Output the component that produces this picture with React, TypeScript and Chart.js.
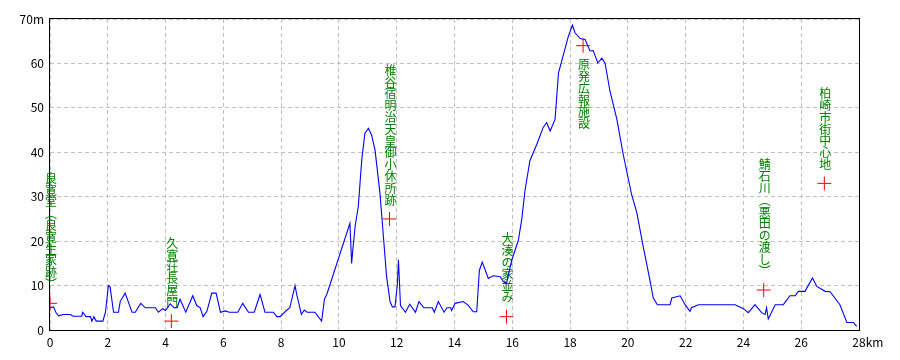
import React, { useEffect, useRef } from "react";
import { Chart, registerables } from "chart.js";

Chart.register(...registerables);

// Elevation profile: distance (km) and elevation (m)
const distanceKm: number[] = [
  0, 0.12, 0.2, 0.3, 0.45, 0.7, 0.8, 1.1, 1.13, 1.25, 1.4, 1.45, 1.52, 1.6, 1.83, 1.92,
  2.02, 2.08, 2.2, 2.37, 2.43, 2.6, 2.84, 2.95, 3.14, 3.3, 3.65, 3.75, 3.9, 4.0, 4.16, 4.3,
  4.4, 4.5, 4.7, 4.94, 5.08, 5.2, 5.3, 5.43, 5.6, 5.75, 5.9, 6.07, 6.2, 6.5, 6.67, 6.87,
  7.07, 7.27, 7.44, 7.73, 7.85, 7.96, 8.2, 8.3, 8.48, 8.54, 8.7, 8.8, 8.9, 9.17, 9.4, 9.5,
  9.58, 10.38, 10.44, 10.48, 10.56, 10.67, 10.79, 10.9, 11.02, 11.13, 11.25, 11.42, 11.54,
  11.65, 11.77, 11.85, 11.94, 12.02, 12.06, 12.1, 12.13, 12.3, 12.45, 12.65, 12.77, 12.94,
  13.23, 13.3, 13.44, 13.64, 13.74, 13.87, 13.9, 14.02, 14.3, 14.47, 14.65, 14.77, 14.86,
  14.96, 15.17, 15.34, 15.58, 15.69, 15.8, 15.98, 16.21, 16.33, 16.44, 16.61, 16.85, 17.07,
  17.19, 17.31, 17.48, 17.6, 17.77, 17.94, 18.08, 18.17, 18.35, 18.52, 18.69, 18.8, 18.96,
  19.1, 19.21, 19.38, 19.62, 19.84, 20.13, 20.31, 20.54, 20.77, 20.88, 21.02, 21.46, 21.52,
  21.81, 21.98, 22.15, 22.2, 22.44, 23.71, 24.0, 24.17, 24.4, 24.63, 24.75, 24.8, 24.86,
  25.1, 25.38, 25.61, 25.79, 25.9, 26.13, 26.39, 26.54, 26.83, 27.0, 27.34, 27.58, 27.81,
  27.92,
];

const elevationM: number[] = [
  5, 5.2, 4, 3.2, 3.5, 3.5, 3.1, 3.1, 4, 3, 3, 2, 3, 2, 2, 4,
  10, 9.7, 4, 4, 6.4, 8.3, 4, 4, 6, 5, 5, 4, 4.8, 4.4, 5.9, 5,
  5, 6.9, 4, 7.7, 5.5, 5, 3, 4.2, 8.3, 8.3, 4, 4.3, 4, 4, 6, 4,
  4, 8, 4, 4, 3, 3, 4.5, 5, 10, 8, 3.5, 4.5, 4, 4, 2, 7,
  8, 24, 15, 18, 23.3, 27.8, 38.3, 44.3, 45.4, 43.9, 40.5, 30.8, 21,
  12, 6.4, 5.2, 5.2, 10, 15.8, 10, 5.5, 4, 5.8, 4, 6.4, 5,
  5, 4, 6.4, 4, 5, 5, 4.4, 6, 6.4, 5.6, 4.1, 4.1, 13.4,
  15.3, 11.6, 12.2, 12, 10.9, 10.5, 15.7, 20.2, 25, 31.4, 38.1, 41.8, 45.6,
  46.7, 44.8, 47.4, 57.9, 62, 66.1, 68.6, 66.9, 65.6, 65.4, 62.8, 62.9, 60.1,
  61.2, 60.1, 53.8, 47.4, 39.5, 30.5, 26.4, 18.5, 11, 7.2, 5.7, 5.7, 7.2,
  7.7, 5.7, 4.2, 5, 5.7, 5.7, 4.8, 3.9, 5.7, 3.9, 3.5, 5, 2.5,
  5.7, 5.7, 7.7, 7.7, 8.7, 8.7, 11.7, 9.8, 8.7, 8.6, 5.7, 1.7, 1.7,
  0.8,
];

// Landmarks
const landmarkNames: string[] = [
  "良寛堂（良寛生家跡）",
  "久寛荘長屋門",
  "椎谷宿明治天皇御小休所跡",
  "大湊の家並み",
  "原発広報施設",
  "鯖石川（悪田の渡し）",
  "柏崎市街中心地",
];
const landmarkKm: number[] = [0, 4.2, 11.75, 15.8, 18.45, 24.7, 26.8];
const landmarkM: number[] = [6, 2, 25, 3, 64, 9, 33];
const landmarkBelow: boolean[] = [false, false, false, false, true, false, false];

// Axes
const xTicks: number[] = [0, 2, 4, 6, 8, 10, 12, 14, 16, 18, 20, 22, 24, 26, 28];
const yTicks: number[] = [0, 10, 20, 30, 40, 50, 60, 70];
const xUnit = "km";
const yUnit = "m";

const FONT = '"Noto Sans CJK JP", "Noto Sans", sans-serif';

const verticalForm = (c: string) => (c === "（" ? "︵" : c === "）" ? "︶" : c);

const framePlugin = {
  id: "frame",
  beforeDatasetsDraw(chart: any) {
    const { ctx, chartArea, scales } = chart;
    ctx.save();
    ctx.strokeStyle = "#000";
    ctx.lineWidth = 1;
    ctx.setLineDash([]);
    ctx.strokeRect(
      Math.round(chartArea.left) - 0.5,
      Math.round(chartArea.top) - 0.5,
      Math.round(chartArea.right - chartArea.left) + 1,
      Math.round(chartArea.bottom - chartArea.top) + 1
    );

    // vertical landmark labels (drawn under the profile line)
    const step = 11.8;
    ctx.font = `12px ${FONT}`;
    ctx.fillStyle = "#008000";
    ctx.textAlign = "center";
    ctx.textBaseline = "middle";
    landmarkNames.forEach((name, i) => {
      const px = scales.x.getPixelForValue(landmarkKm[i]);
      const py = scales.y.getPixelForValue(landmarkM[i]);
      const chars = Array.from(name).map(verticalForm);
      const n = chars.length;
      chars.forEach((c, j) => {
        const cy = landmarkBelow[i]
          ? py + 12 + (j + 0.5) * step
          : py - 14 - (n - j - 0.5) * step;
        ctx.fillText(c, px + 1, cy + 1);
      });
    });

    // unit after last x tick
    const xs = scales.x;
    const lastX = xTicks[xTicks.length - 1];
    const lx = xs.getPixelForValue(lastX);
    ctx.fillStyle = "#000";
    ctx.textAlign = "left";
    const w = ctx.measureText(String(lastX)).width;
    ctx.fillText(xUnit, lx + w / 2, xs.top + 5 + 7);
    ctx.restore();
  },
};

export default function App() {
  const canvasRef = useRef<HTMLCanvasElement | null>(null);

  useEffect(() => {
    if (!canvasRef.current) return;
    const profile = distanceKm.map((x, i) => ({ x, y: elevationM[i] }));
    const marks = landmarkKm.map((x, i) => ({ x, y: landmarkM[i] }));
    const chart = new Chart(canvasRef.current, {
      type: "line",
      data: {
        datasets: [
          {
            type: "line",
            data: profile,
            borderColor: "#0000ff",
            borderWidth: 1.1,
            pointRadius: 0,
            tension: 0,
            fill: false,
          },
          {
            type: "scatter",
            data: marks,
            pointStyle: "cross",
            pointRadius: 7,
            borderColor: "#ff0000",
            backgroundColor: "#ff0000",
            pointBorderWidth: 1,
            borderWidth: 1,
            showLine: false,
          } as any,
        ],
      },
      options: {
        animation: false,
        responsive: true,
        maintainAspectRatio: false,
        layout: { padding: { top: 19, right: 41, left: 0, bottom: 0 } },
        plugins: {
          legend: { display: false },
          tooltip: { enabled: false },
        },
        scales: {
          x: {
            type: "linear",
            min: xTicks[0],
            max: xTicks[xTicks.length - 1],
            afterBuildTicks: (scale: any) => {
              scale.ticks = xTicks.map((v) => ({ value: v }));
            },
            afterFit: (scale: any) => {
              scale.height = 30;
            },
            ticks: {
              padding: 5,
              color: "#000",
              font: { family: FONT, size: 12 },
              maxRotation: 0,
              autoSkip: false,
              callback: (v: any) => String(v),
            },
            grid: { color: "#c0c0c0", lineWidth: 1, drawTicks: false },
            border: { display: false, dash: [4, 3] },
          },
          y: {
            type: "linear",
            min: yTicks[0],
            max: yTicks[yTicks.length - 1],
            afterBuildTicks: (scale: any) => {
              scale.ticks = yTicks.map((v) => ({ value: v }));
            },
            afterFit: (scale: any) => {
              scale.width = 50;
            },
            ticks: {
              padding: 6,
              color: "#000",
              font: { family: FONT, size: 12 },
              autoSkip: false,
              callback: (v: any) =>
                v === yTicks[yTicks.length - 1] ? `${v}${yUnit}` : String(v),
            },
            grid: { color: "#c0c0c0", lineWidth: 1, drawTicks: false },
            border: { display: false, dash: [4, 3] },
          },
        },
      },
      plugins: [framePlugin],
    });
    return () => chart.destroy();
  }, []);

  return (
    <div
      style={{
        position: "fixed",
        left: 0,
        top: 0,
        width: 900,
        height: 360,
        background: "#fff",
      }}
    >
      <canvas ref={canvasRef} />
    </div>
  );
}
